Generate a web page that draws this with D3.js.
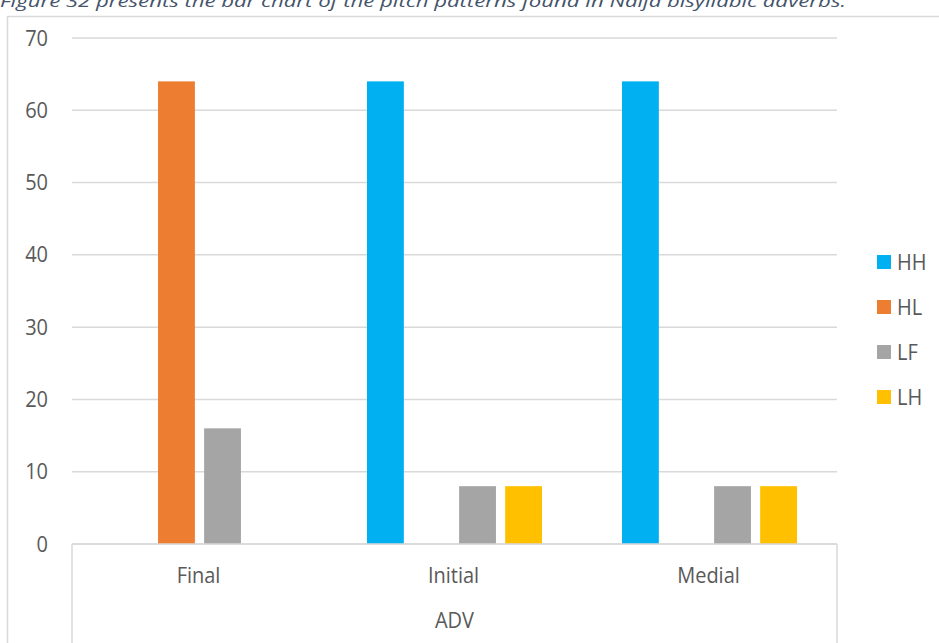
<!DOCTYPE html>
<html><head><meta charset="utf-8">
<script src="https://cdn.jsdelivr.net/npm/d3@7"></script>
<style>body{margin:0;background:#fff;overflow:hidden}svg{display:block}</style>
</head><body>
<script>
const categories = ["Final", "Initial", "Medial"];
const seriesNames = ["HH", "HL", "LF", "LH"];
const HH = [0, 64, 64];
const HL = [64, 0, 0];
const LF = [16, 8, 8];
const LH = [0, 8, 8];
const yTicks = [0, 10, 20, 30, 40, 50, 60, 70];
const groupLabel = "ADV";
const caption = "Figure 32 presents the bar chart of the pitch patterns found in Naija bisyllabic adverbs.";
const colors = ["#00b0f0", "#ed7d31", "#a5a5a5", "#ffc000"];
const seriesValues = [HH, HL, LF, LH];

(function () {
const W = 939, H = 643;
const svg = d3.select("body").append("svg").attr("width", W).attr("height", H);
const font = "'Open Sans', sans-serif";
const FS = 20, SY = 1.08;
const txt = (sel, fx, fy) => sel.attr("transform", (d, i) => `translate(${fx(d, i)},${fy(d, i)}) scale(1,${SY})`)
  .attr("font-family", font).attr("font-size", FS).attr("fill", "#595959").attr("dy", "0.35em");

// caption
svg.append("text").attr("x", 0).attr("y", 7)
  .attr("font-family", font).attr("font-style", "italic").attr("font-size", 17)
  .attr("fill", "#44546a").attr("textLength", 846).attr("lengthAdjust", "spacingAndGlyphs")
  .text(caption);

// chart frame
svg.append("rect").attr("x", 7.5).attr("y", 16.5).attr("width", 1000).attr("height", 700)
  .attr("fill", "none").attr("stroke", "#d9d9d9").attr("stroke-width", 1.5);

const pLeft = 72, pRight = 837, pTop = 38, pBottom = 544;
const x0 = d3.scaleBand().domain(categories).range([pLeft, pRight]).paddingInner(0).paddingOuter(0);
const x1 = d3.scaleBand().domain(seriesNames).range([40, x0.bandwidth() - 40]).paddingInner(0.2).paddingOuter(0);
const y = d3.scaleLinear().domain([0, 70]).range([pBottom, pTop]);

// grid
svg.append("g").selectAll("line").data(yTicks).join("line")
  .attr("x1", pLeft).attr("x2", pRight)
  .attr("y1", d => y(d)).attr("y2", d => y(d))
  .attr("stroke", "#d9d9d9").attr("stroke-width", 1.5);

// y labels
txt(svg.append("g").selectAll("text").data(yTicks).join("text"), () => 48, d => y(d))
  .attr("text-anchor", "end").text(d => d);

// bars
const rows = [];
categories.forEach((c, i) => seriesNames.forEach((s, j) => rows.push({c, s, v: seriesValues[j][i], color: colors[j]})));
svg.append("g").selectAll("rect").data(rows.filter(d => d.v > 0)).join("rect")
  .attr("x", d => x0(d.c) + x1(d.s)).attr("width", x1.bandwidth())
  .attr("y", d => y(d.v)).attr("height", d => y(0) - y(d.v))
  .attr("fill", d => d.color);

// category axis box lines
const ax = svg.append("g").attr("stroke", "#d9d9d9").attr("stroke-width", 1.5);
ax.append("line").attr("x1", pLeft).attr("x2", pRight).attr("y1", pBottom).attr("y2", pBottom);
ax.append("line").attr("x1", pLeft).attr("x2", pLeft).attr("y1", pBottom).attr("y2", H);
ax.append("line").attr("x1", pRight).attr("x2", pRight).attr("y1", pBottom).attr("y2", H);

txt(svg.append("g").selectAll("text").data(categories).join("text"), d => x0(d) + x0.bandwidth() / 2 - 1, () => 575)
  .attr("text-anchor", "middle").text(d => d);

txt(svg.append("text").datum(groupLabel), () => (pLeft + pRight) / 2, () => 620)
  .attr("text-anchor", "middle").text(d => d);

// legend
const lg = svg.append("g").selectAll("g").data(seriesNames).join("g")
  .attr("transform", (d, i) => `translate(877, ${262 + i * 45})`);
lg.append("rect").attr("x", 0).attr("y", -7).attr("width", 14).attr("height", 14)
  .attr("fill", (d, i) => colors[i]);
txt(lg.append("text"), () => 20, () => 0).text(d => d);
})();
</script>
</body></html>
